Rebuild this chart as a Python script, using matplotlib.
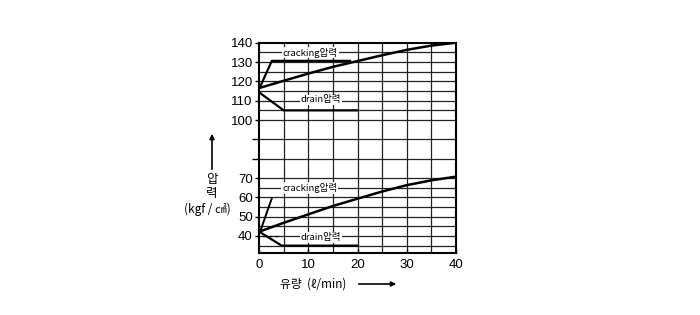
import matplotlib
matplotlib.use("Agg")
import matplotlib.pyplot as plt

# ---- data ----
flow = [0, 5, 10, 15, 20, 25, 30, 35, 40]
upper_pressure = [116.5, 120.3, 124.0, 127.5, 130.5, 133.5, 136.3, 138.5, 140.0]
lower_pressure = [42.2, 46.8, 51.2, 55.5, 59.3, 63.0, 66.3, 68.8, 70.7]

upper_crack_x = [0.2, 2.6, 18.5]
upper_crack_y = [117.0, 130.6, 130.6]
upper_drain_x = [0.2, 5.0, 20.0]
upper_drain_y = [114.0, 105.0, 105.0]
lower_crack_x = [0.4, 2.6]
lower_crack_y = [43.5, 59.5]
lower_drain_x = [0.2, 4.6, 20.0]
lower_drain_y = [42.0, 35.0, 35.0]
lower_drain_dash_x = [0.6, 4.2]
lower_drain_dash_y = [40.2, 40.2]

x_ticks = [0, 10, 20, 30, 40]
y_ticks = [40, 50, 60, 70, 100, 110, 120, 130, 140]
x_grid = [5, 10, 15, 20, 25, 30, 35]
y_grid = [35, 40, 45, 50, 55, 60, 65, 70, 80, 90, 100, 105, 110, 115, 120, 125, 130, 135]

labels = ["cracking압력", "drain압력", "cracking압력", "drain압력"]
label_x = [10.4, 12.6, 10.3, 12.6]
label_y = [134.9, 110.4, 64.7, 39.1]

KR = ["Noto Sans CJK KR", "DejaVu Sans"]
NUM = ["Liberation Sans", "DejaVu Sans"]

W, H = 700, 315
fig = plt.figure(figsize=(W / 100, H / 100), dpi=100)
ax = fig.add_axes([259 / W, 1 - 253 / H, (456 - 259) / W, (253 - 42.7) / H])
ax.set_xlim(0, 40)
ax.set_ylim(31.2, 140)

for gx in x_grid:
    ax.axvline(gx, color="#222222", lw=0.9, zorder=1)
for gy in y_grid:
    ax.axhline(gy, color="#222222", lw=0.9, zorder=1)

ax.plot(flow, upper_pressure, color="black", lw=1.8, zorder=3)
ax.plot(flow, lower_pressure, color="black", lw=1.8, zorder=3)
ax.plot(upper_crack_x, upper_crack_y, color="black", lw=1.6, zorder=3)
ax.plot(upper_drain_x, upper_drain_y, color="black", lw=1.6, zorder=3)
ax.plot(lower_crack_x, lower_crack_y, color="black", lw=1.4, zorder=3)
ax.plot(lower_drain_x, lower_drain_y, color="black", lw=1.6, zorder=3)
ax.plot(lower_drain_dash_x, lower_drain_dash_y, color="black", lw=0.9,
        ls=(0, (3, 2)), zorder=3)

for t, lx, ly in zip(labels, label_x, label_y):
    ax.text(lx, ly, t, ha="center", va="center", fontsize=6.8, family=KR,
            zorder=4, bbox=dict(facecolor="white", edgecolor="none", pad=0.6))

ax.set_xticks(x_ticks)
ax.set_yticks(y_ticks)
ax.set_xticklabels([str(v) for v in x_ticks], family=NUM, fontsize=9.5)
ax.set_yticklabels([str(v) for v in y_ticks], family=NUM, fontsize=9.5)
ax.set_yticks([80, 90], minor=True)
ax.tick_params(axis="y", direction="out", length=3, width=1, pad=1.5)
ax.tick_params(axis="y", which="minor", direction="out", length=5, width=1)
ax.tick_params(axis="x", direction="in", length=3, width=1, pad=4)
for s in ax.spines.values():
    s.set_linewidth(1.5)
    s.set_color("black")

# y-axis label with upward arrow
ax.annotate("", xy=(212 / W, 1 - 131 / H), xytext=(212 / W, 1 - 172 / H),
            xycoords="figure fraction", textcoords="figure fraction",
            arrowprops=dict(arrowstyle="-|>", color="black", lw=1.2,
                            mutation_scale=7))
fig.text(212 / W, 1 - 179 / H, "압", ha="center", va="center", fontsize=9, family=KR)
fig.text(212 / W, 1 - 193 / H, "력", ha="center", va="center", fontsize=9, family=KR)
fig.text(207 / W, 1 - 209 / H, "(kgf / ㎠)", ha="center", va="center",
         fontsize=8.5, family=KR)

# x-axis label with right arrow
fig.text(280 / W, 1 - 284 / H, "유량  (ℓ/min)", ha="left", va="center",
         fontsize=8.5, family=KR)
ax.annotate("", xy=(399 / W, 1 - 284 / H), xytext=(356 / W, 1 - 284 / H),
            xycoords="figure fraction", textcoords="figure fraction",
            arrowprops=dict(arrowstyle="-|>", color="black", lw=1.2,
                            mutation_scale=7))

fig.savefig("out.png", dpi=100, facecolor="white")
